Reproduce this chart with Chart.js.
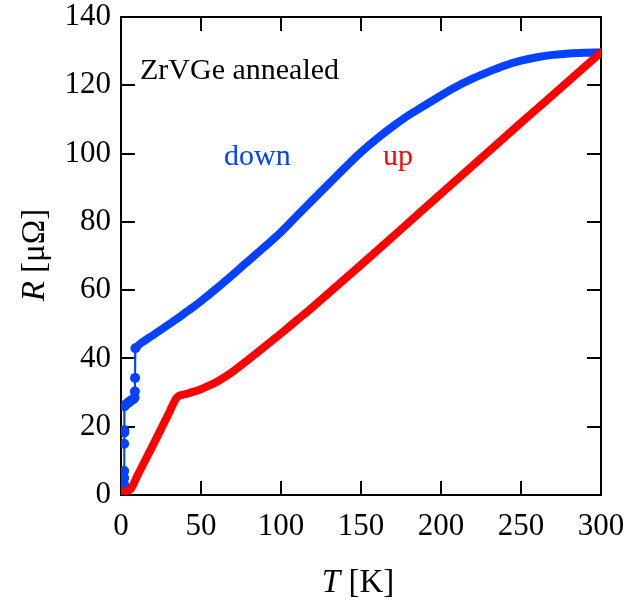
<!DOCTYPE html>
<html>
<head>
<meta charset="utf-8">
<script src="https://cdn.jsdelivr.net/npm/chart.js@4/dist/chart.umd.min.js"></script>
<style>
html,body{margin:0;padding:0;background:#fff;}
#wrap{width:643px;height:605px;position:relative;}
</style>
</head>
<body>
<div id="wrap"><canvas id="c" width="643" height="605"></canvas></div>
<script>
// ---- data ----
const downT = [300, 290, 280, 270, 260, 250, 240, 230, 220, 208, 200, 187, 180, 170, 160, 150, 140, 130, 120, 110, 100, 90, 80, 70, 60, 50, 45, 40, 35, 30, 25, 20, 16, 12, 9];
const downR = [129.6, 129.5, 129.3, 128.9, 128.2, 127.2, 125.8, 124.0, 122.0, 119.2, 117.0, 113.3, 111.3, 108.0, 104.4, 100.4, 95.9, 91.2, 86.5, 81.8, 77.0, 72.8, 68.7, 64.6, 60.6, 56.8, 55.0, 53.3, 51.6, 50.0, 48.4, 46.8, 45.6, 44.3, 43.0];
const lowT = [9.0, 8.8, 8.7, 8.5, 7.5, 6.0, 5.0, 4.0, 3.0, 2.2, 2.1, 2.1, 2.0, 2.0, 2.0, 2.0];
const lowR = [43.0, 34.3, 30.3, 28.5, 28.0, 27.6, 27.2, 26.8, 26.5, 26.0, 19.0, 18.3, 15.0, 7.0, 5.0, 3.0];
const upT = [1.5, 3, 5, 6.5, 10, 20, 30, 35, 40, 45, 50, 55, 60, 65, 70, 80, 90, 100, 110, 120, 130, 150, 175, 200, 225, 250, 275, 300];
const upR = [1.2, 1.2, 1.4, 2.0, 5.4, 14.6, 24.0, 28.6, 29.5, 30.2, 31.0, 32.0, 33.2, 34.6, 36.2, 39.8, 43.5, 47.3, 51.2, 55.1, 59.2, 67.4, 77.8, 88.2, 98.6, 109.0, 119.3, 129.6];
const xTicks = [0, 50, 100, 150, 200, 250, 300];
const yTicks = [0, 20, 40, 60, 80, 100, 120, 140];
const labels = {title: "ZrVGe annealed", down: "down", up: "up"};

const BLUE = 'rgb(5,65,255)';
const RED = 'rgb(255,0,0)';
const toXY = (xs, ys) => xs.map((x, i) => ({x: x, y: ys[i]}));
const FONT = '"Liberation Serif", "Times New Roman", serif';

const framePlugin = {
  id: 'frame',
  beforeDatasetsDraw(chart) {
    const {ctx, chartArea: a, scales: {x, y}} = chart;
    ctx.save();
    ctx.strokeStyle = '#000';
    ctx.lineWidth = 2;
    const L = 14;
    ctx.beginPath();
    xTicks.forEach(v => {
      const px = Math.round(x.getPixelForValue(v));
      ctx.moveTo(px, a.bottom); ctx.lineTo(px, a.bottom - L);
      ctx.moveTo(px, a.top); ctx.lineTo(px, a.top + L);
    });
    yTicks.forEach(v => {
      const py = Math.round(y.getPixelForValue(v));
      ctx.moveTo(a.left, py); ctx.lineTo(a.left + L, py);
      ctx.moveTo(a.right, py); ctx.lineTo(a.right - L, py);
    });
    ctx.stroke();
    ctx.strokeRect(a.left, a.top, a.right - a.left, a.bottom - a.top);
    ctx.restore();
  },
  afterDraw(chart) {
    const {ctx, chartArea: a} = chart;
    ctx.save();
    ctx.textBaseline = 'alphabetic';
    ctx.textAlign = 'left';
    ctx.font = '30px ' + FONT;
    ctx.fillStyle = '#000';
    ctx.fillText(labels.title, a.left + 19, 79);
    ctx.fillStyle = BLUE;
    ctx.fillText(labels.down, 224, 165);
    ctx.fillStyle = RED;
    ctx.fillText(labels.up, 383, 165);
    // x axis title: italic T + [K]
    ctx.fillStyle = '#000';
    const FS = 33;
    const cx = 358;
    ctx.font = 'italic ' + FS + 'px ' + FONT;
    const w1 = ctx.measureText('T').width;
    ctx.font = FS + 'px ' + FONT;
    const w2 = ctx.measureText(' [K]').width;
    let sx = cx - (w1 + w2) / 2;
    ctx.font = 'italic ' + FS + 'px ' + FONT;
    ctx.fillText('T', sx, 592);
    ctx.font = FS + 'px ' + FONT;
    ctx.fillText(' [K]', sx + w1, 592);
    // y axis title
    ctx.translate(44, 255);
    ctx.rotate(-Math.PI / 2);
    ctx.font = 'italic ' + FS + 'px ' + FONT;
    const v1 = ctx.measureText('R').width;
    ctx.font = FS + 'px ' + FONT;
    const v2 = ctx.measureText(' [\u03BC\u03A9]').width;
    sx = -(v1 + v2) / 2;
    ctx.font = 'italic ' + FS + 'px ' + FONT;
    ctx.fillText('R', sx, 0);
    ctx.font = FS + 'px ' + FONT;
    ctx.fillText(' [\u03BC\u03A9]', sx + v1, 0);
    ctx.restore();
  }
};

new Chart(document.getElementById('c'), {
  type: 'scatter',
  data: {
    datasets: [
      {label: 'up', data: toXY(upT, upR), showLine: true, borderColor: RED, backgroundColor: RED,
       borderWidth: 8, pointRadius: 0, cubicInterpolationMode: 'monotone', borderCapStyle: 'round', borderJoinStyle: 'round'},
      {label: 'down low', data: toXY(lowT, lowR), showLine: true, borderColor: BLUE, backgroundColor: BLUE,
       borderWidth: 2, pointRadius: 5, pointBorderWidth: 0, tension: 0},
      {label: 'down', data: toXY(downT, downR), showLine: true, borderColor: BLUE, backgroundColor: BLUE,
       borderWidth: 8, pointRadius: 0, cubicInterpolationMode: 'monotone', borderCapStyle: 'round', borderJoinStyle: 'round'}
    ]
  },
  options: {
    responsive: false,
    animation: false,
    layout: {padding: {top: 17, right: 42, left: 0, bottom: 0}},
    plugins: {legend: {display: false}, tooltip: {enabled: false}},
    scales: {
      x: {
        type: 'linear', min: 0, max: 300,
        afterBuildTicks(s) { s.ticks = xTicks.map(v => ({value: v})); },
        afterFit(s) { s.height = 110; s.paddingLeft = 0; s.paddingRight = 0; },
        grid: {display: false}, border: {display: false},
        ticks: {color: '#000', padding: 5, maxRotation: 0, font: {family: FONT, size: 31}}
      },
      y: {
        type: 'linear', min: 0, max: 140,
        afterBuildTicks(s) { s.ticks = yTicks.map(v => ({value: v})); },
        afterFit(s) { s.width = 121; s.paddingTop = 0; s.paddingBottom = 0; },
        grid: {display: false}, border: {display: false},
        ticks: {color: '#000', padding: 2, font: {family: FONT, size: 31}}
      }
    }
  },
  plugins: [framePlugin]
});
</script>
</body>
</html>
